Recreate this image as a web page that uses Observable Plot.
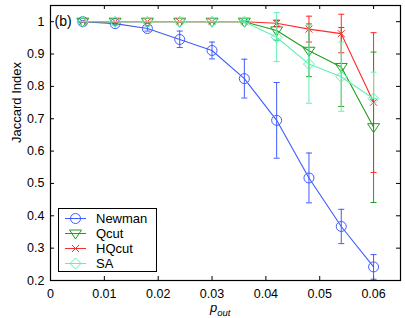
<!DOCTYPE html>
<html>
<head>
<meta charset="utf-8">
<script src="https://cdn.jsdelivr.net/npm/d3@7"></script>
<script src="https://cdn.jsdelivr.net/npm/@observablehq/plot@0.6"></script>
<style>
  html, body { margin: 0; padding: 0; background: #fff; }
  #chart { width: 405px; height: 318px; }
  svg { font-family: "Liberation Sans", Arial, sans-serif; }
</style>
</head>
<body>
<div id="chart"></div>
<script>
// ---- data ----
const pout = [0.006, 0.012, 0.018, 0.024, 0.030, 0.036, 0.042, 0.048, 0.054, 0.060];

const newman   = [1.000, 0.994, 0.979, 0.945, 0.911, 0.824, 0.695, 0.517, 0.367, 0.242];
const newmanLo = [0.998, 0.990, 0.971, 0.920, 0.885, 0.764, 0.578, 0.440, 0.314, 0.204];
const newmanHi = [1.002, 0.998, 0.987, 0.971, 0.937, 0.884, 0.812, 0.594, 0.420, 0.280];

const qcut   = [1.000, 1.000, 1.000, 1.000, 1.000, 1.000, 0.973, 0.910, 0.860, 0.674];
const qcutLo = [1.000, 1.000, 1.000, 1.000, 1.000, 0.997, 0.943, 0.830, 0.738, 0.441];
const qcutHi = [1.000, 1.000, 1.000, 1.000, 1.000, 1.003, 1.003, 0.993, 0.982, 0.906];

const hqcut   = [1.000, 1.000, 1.000, 1.000, 1.000, 1.000, 0.995, 0.977, 0.963, 0.751];
const hqcutLo = [1.000, 1.000, 1.000, 1.000, 1.000, 0.998, 0.985, 0.937, 0.904, 0.534];
const hqcutHi = [1.000, 1.000, 1.000, 1.000, 1.000, 1.002, 1.005, 1.017, 1.023, 0.966];

const sa   = [1.000, 1.000, 1.000, 1.000, 1.000, 1.000, 0.952, 0.869, 0.830, 0.762];
const saLo = [1.000, 1.000, 1.000, 1.000, 1.000, 0.997, 0.877, 0.748, 0.723, 0.762];
const saHi = [1.000, 1.000, 1.000, 1.000, 1.000, 1.003, 1.028, 0.989, 0.937, 0.844];

const seriesNames = ["Newman", "Qcut", "HQcut", "SA"];
const seriesColors = ["#3f5cff", "#1f9f1f", "#ff2a2a", "#5ff2b2"];

const xTicks = [0, 0.01, 0.02, 0.03, 0.04, 0.05, 0.06];
const xTickLabels = ["0", "0.01", "0.02", "0.03", "0.04", "0.05", "0.06"];
const yTicks = [0.2, 0.3, 0.4, 0.5, 0.6, 0.7, 0.8, 0.9, 1.0];
const yTickLabels = ["0.2", "0.3", "0.4", "0.5", "0.6", "0.7", "0.8", "0.9", "1"];

// ---- symbols ----
const symCircle = {draw(c){ c.moveTo(5, 0); c.arc(0, 0, 5, 0, 2 * Math.PI); }};
const symTriDown = {draw(c){ c.moveTo(-6, -3.5); c.lineTo(6, -3.5); c.lineTo(0, 5.5); c.closePath(); }};
const symX = {draw(c){ c.moveTo(-3.5, -3.5); c.lineTo(3.5, 3.5); c.moveTo(-3.5, 3.5); c.lineTo(3.5, -3.5); }};
const symDiamond = {draw(c){ c.moveTo(0, -5.5); c.lineTo(5.5, 0); c.lineTo(0, 5.5); c.lineTo(-5.5, 0); c.closePath(); }};
const symCap = {draw(c){ c.moveTo(-3, 0); c.lineTo(3, 0); }};
const symbols = [symCircle, symTriDown, symX, symDiamond];

const values = [newman, qcut, hqcut, sa];
const lows = [newmanLo, qcutLo, hqcutLo, saLo];
const highs = [newmanHi, qcutHi, hqcutHi, saHi];

const series = seriesNames.map((name, k) => ({
  name, color: seriesColors[k], symbol: symbols[k],
  rows: pout.map((x, i) => ({x, y: values[k][i], lo: lows[k][i], hi: highs[k][i]}))
}));

const W = 405, H = 318;
const mL = 50, mR = 5, mT = 5, mB = 38;
const pw = W - mL - mR, ph = H - mT - mB;

const marks = [];
for (const s of series) {
  marks.push(Plot.ruleX(s.rows, {x: "x", y1: "lo", y2: "hi", stroke: s.color, strokeWidth: 1}));
  marks.push(Plot.dot(s.rows, {x: "x", y: "lo", symbol: symCap, stroke: s.color, strokeWidth: 1, r: 3}));
  marks.push(Plot.dot(s.rows, {x: "x", y: "hi", symbol: symCap, stroke: s.color, strokeWidth: 1, r: 3}));
  marks.push(Plot.line(s.rows, {x: "x", y: "y", stroke: s.color, strokeWidth: 1.1}));
  marks.push(Plot.dot(s.rows, {x: "x", y: "y", symbol: s.symbol, stroke: s.color, fill: "none", strokeWidth: 1, r: 5}));
}

const chart = Plot.plot({
  width: W, height: H,
  marginLeft: mL, marginRight: mR, marginTop: mT, marginBottom: mB,
  style: {fontFamily: "Liberation Sans, Arial, sans-serif", fontSize: "12px", color: "black", background: "white"},
  x: {domain: [0, 0.065]},
  y: {domain: [0.2, 1.05]},
  marks: [
    Plot.axisX({ticks: xTicks, tickSize: 0, tickPadding: 9, tickFormat: (d, i) => xTickLabels[i], label: null, fontSize: 12.5}),
    Plot.axisY({ticks: yTicks, tickSize: 0, tickPadding: 6, tickFormat: (d, i) => yTickLabels[i], label: null, fontSize: 12.5}),
    // inward ticks on all four sides
    Plot.tickX(xTicks, {x: d => d, insetTop: ph - 4, stroke: "black"}),
    Plot.tickX(xTicks, {x: d => d, insetBottom: ph - 4, stroke: "black"}),
    Plot.tickY(yTicks, {y: d => d, insetRight: pw - 4, stroke: "black"}),
    Plot.tickY(yTicks, {y: d => d, insetLeft: pw - 4, stroke: "black"}),
    ...marks,
    Plot.frame({stroke: "black", strokeWidth: 1.2}),
    Plot.text(["(b)"], {frameAnchor: "top-left", dx: 4, dy: 11, fontSize: 14, fill: "black", textAnchor: "start"}),
    Plot.text(["Jaccard Index"], {frameAnchor: "left", dx: -34, rotate: -90, fontSize: 13, fill: "black"})
  ]
});

document.getElementById("chart").appendChild(chart);

// x-axis label with subscript
const svg = d3.select(chart);
const xl = svg.append("text")
  .attr("x", 210).attr("y", 312).attr("text-anchor", "start")
  .attr("font-size", 13).attr("font-style", "italic").attr("fill", "black")
  .attr("font-family", "Liberation Sans, Arial, sans-serif");
xl.append("tspan").text("p");
xl.append("tspan").attr("font-size", 9.5).attr("dy", 4).text("out");

// legend
const lg = svg.append("g").attr("font-family", "Liberation Sans, Arial, sans-serif").attr("text-anchor", "start");
lg.append("rect").attr("x", 58.5).attr("y", 208.5).attr("width", 98).attr("height", 63)
  .attr("fill", "white").attr("stroke", "black").attr("stroke-width", 1);
const ctxPath = (sym) => { const p = d3.path(); sym.draw(p); return p.toString(); };
series.forEach((s, k) => {
  const yy = 218.5 + k * 15;
  const g = lg.append("g");
  g.append("line").attr("x1", 65).attr("x2", 86).attr("y1", yy).attr("y2", yy)
    .attr("stroke", s.color).attr("stroke-width", 1);
  g.append("path").attr("d", ctxPath(s.symbol)).attr("transform", `translate(75.5,${yy})`)
    .attr("fill", "none").attr("stroke", s.color).attr("stroke-width", 1);
  g.append("text").attr("x", 96).attr("y", yy).attr("dy", "0.35em")
    .attr("font-size", 13).attr("fill", "black").attr("text-anchor", "start").text(s.name);
});
</script>
</body>
</html>
